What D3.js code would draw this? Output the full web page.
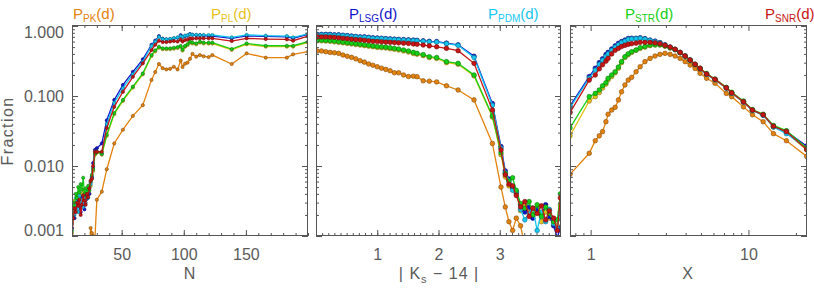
<!DOCTYPE html>
<html>
<head>
<meta charset="utf-8">
<script src="https://cdn.jsdelivr.net/npm/d3@7"></script>
<style>
  body { margin: 0; background: #fff; }
  svg { display: block; }
  text { font-family: "Liberation Sans", Arial, sans-serif; fill: #5a5a5a; }
</style>
</head>
<body>
<svg id="chart" width="814" height="291"></svg>
<script>
"use strict";

/********/
/* data */
/********/

const seriesNames = ["PK", "PL", "LSG", "PDM", "STR", "SNR"];
const seriesColours = ["#e4820e", "#e6c21a", "#1212cc", "#14c6f0", "#14d014", "#c81414"];

// panel 1: number of points N
const nBins = [10, 11, 12, 13, 14, 15, 16, 17, 18, 19, 20, 21, 22, 23, 24, 25, 26, 27,
  28.5, 30, 34, 38, 44, 51, 59, 67, 74, 77, 80, 83, 86, 89, 92, 95,
  97.5, 99, 101, 103, 105, 107, 110, 113, 116, 120, 123, 138.6, 150.6, 166, 183, 188, 200];
const pkN = [null, null, null, null, null, null, null, null, null, null, null, null, null, null, 0.0007, 0.0013, 0.0011, 0.0010,
  0.00095, 0.0033, 0.0043, 0.009, 0.021, 0.033, 0.052, 0.074, 0.17, 0.22, 0.287, 0.25, 0.24, 0.245, 0.262, 0.24,
  0.32, 0.26, 0.29, 0.30, 0.34, 0.40, 0.365, 0.385, 0.37, 0.36, 0.385, 0.287, 0.407, 0.353, 0.353, 0.394, 0.43];
const plN = [0.0011, 0.0020, 0.0032, 0.0026, 0.0038, 0.0030, 0.0025, 0.0040, 0.0032, 0.0045, 0.0036, 0.0033, 0.0038, 0.0042, 0.0040, 0.0052, 0.0065, 0.0085,
  0.0145, 0.0155, 0.0145, 0.027, 0.055, 0.085, 0.132, 0.204, 0.373, 0.436, 0.49, 0.466, 0.466, 0.466, 0.475, 0.485,
  0.504, 0.446, 0.504, 0.534, 0.579, 0.563, 0.548, 0.579, 0.563, 0.561, 0.561, 0.456, 0.548, 0.507, 0.507, 0.507, 0.579];
const lsgN = [0.0013, 0.0022, 0.0018, 0.0028, 0.0025, 0.0032, 0.0026, 0.0022, 0.0035, 0.0030, 0.0024, 0.0038, 0.0034, 0.0045, 0.0040, 0.0058, 0.0070, 0.0110,
  0.017, 0.018, 0.021, 0.045, 0.088, 0.144, 0.222, 0.335, 0.54, 0.62, 0.72, 0.66, 0.645, 0.65, 0.667, 0.68,
  0.74, 0.70, 0.72, 0.73, 0.77, 0.75, 0.74, 0.74, 0.73, 0.72, 0.72, 0.665, 0.725, 0.71, 0.70, 0.67, 0.76];
const pdmN = [0.0015, 0.0028, 0.0020, 0.0035, 0.0030, 0.0022, 0.0038, 0.0028, 0.0033, 0.0026, 0.0036, 0.0030, 0.0042, 0.0035, 0.0050, 0.0055, 0.0068, 0.0095,
  0.016, 0.016, 0.015, 0.040, 0.080, 0.130, 0.205, 0.310, 0.52, 0.60, 0.70, 0.65, 0.645, 0.655, 0.67, 0.69,
  0.72, 0.70, 0.73, 0.74, 0.76, 0.75, 0.75, 0.745, 0.745, 0.745, 0.745, 0.69, 0.75, 0.73, 0.72, 0.69, 0.775];
const strN = [0.0012, 0.0030, 0.0024, 0.0040, 0.0035, 0.0050, 0.0042, 0.0055, 0.0046, 0.0068, 0.0040, 0.0048, 0.0036, 0.0052, 0.0045, 0.0060, 0.0075, 0.0090,
  0.015, 0.016, 0.015, 0.028, 0.057, 0.088, 0.136, 0.210, 0.385, 0.45, 0.506, 0.48, 0.48, 0.48, 0.49, 0.50,
  0.52, 0.46, 0.52, 0.55, 0.597, 0.58, 0.565, 0.597, 0.58, 0.578, 0.578, 0.47, 0.565, 0.523, 0.523, 0.523, 0.597];
const snrN = [0.0010, 0.0018, 0.0025, 0.0022, 0.0030, 0.0027, 0.0033, 0.0020, 0.0028, 0.0038, 0.0032, 0.0028, 0.0040, 0.0036, 0.0048, 0.0062, 0.0066, 0.0100,
  0.016, 0.016, 0.016, 0.035, 0.070, 0.115, 0.188, 0.293, 0.454, 0.54, 0.617, 0.59, 0.59, 0.60, 0.61, 0.60,
  0.64, 0.60, 0.63, 0.64, 0.667, 0.66, 0.667, 0.667, 0.667, 0.667, 0.667, 0.61, 0.667, 0.652, 0.645, 0.617, 0.72];

// panel 2: |Ks - 14|
const ksBins = [0.02, 0.09, 0.16, 0.23, 0.30, 0.37, 0.44, 0.51, 0.58, 0.65, 0.72, 0.79, 0.86, 0.93, 1.00,
  1.07, 1.14, 1.21, 1.28, 1.35, 1.43, 1.51, 1.59, 1.65, 1.75, 1.85, 1.97, 2.13, 2.32, 2.58, 2.88,
  3.02, 3.09, 3.15, 3.21, 3.27, 3.34, 3.41, 3.48, 3.54, 3.61, 3.68, 3.75, 3.81, 3.88, 3.94, 3.99];
const pkKs = [0.44, 0.44, 0.43, 0.42, 0.415, 0.407, 0.385, 0.37, 0.357, 0.34, 0.32, 0.305, 0.287, 0.275, 0.262,
  0.25, 0.24, 0.23, 0.215, 0.215, 0.20, 0.19, 0.192, 0.189, 0.165, 0.163, 0.159, 0.14, 0.122, 0.088, 0.021,
  0.005, 0.0026, 0.0016, 0.0012, 0.0018, 0.0014, 0.0007, null, null, null, null, null, null, null, null, null];
const plKs = [0.615, 0.615, 0.61, 0.605, 0.595, 0.585, 0.575, 0.565, 0.555, 0.545, 0.535, 0.525, 0.515, 0.505, 0.495,
  0.49, 0.485, 0.475, 0.465, 0.455, 0.44, 0.425, 0.405, 0.395, 0.378, 0.354, 0.344, 0.30, 0.284, 0.194, 0.05,
  0.0145, 0.007, 0.0052, 0.0048, 0.004, 0.0023, 0.0028, 0.0022, 0.0019, 0.0025, 0.0016, 0.0022, 0.0018, 0.0017, 0.0014, 0.0028];
const lsgKs = [0.76, 0.76, 0.76, 0.76, 0.75, 0.75, 0.74, 0.73, 0.72, 0.71, 0.70, 0.70, 0.69, 0.68, 0.675,
  0.67, 0.66, 0.655, 0.65, 0.645, 0.64, 0.635, 0.63, 0.625, 0.615, 0.605, 0.60, 0.57, 0.54, 0.37, 0.078,
  0.019, 0.0085, 0.0065, 0.005, 0.0042, 0.0028, 0.0022, 0.0026, 0.0018, 0.0024, 0.002, 0.0028, 0.0019, 0.0014, 0.00095, 0.0013];
const pdmKs = [0.75, 0.75, 0.75, 0.75, 0.74, 0.74, 0.73, 0.72, 0.71, 0.70, 0.69, 0.69, 0.68, 0.67, 0.665,
  0.66, 0.65, 0.645, 0.64, 0.635, 0.63, 0.625, 0.62, 0.615, 0.605, 0.595, 0.59, 0.56, 0.53, 0.355, 0.074,
  0.018, 0.008, 0.0062, 0.0045, 0.0043, 0.0024, 0.0017, 0.0021, 0.0025, 0.0012, 0.0022, 0.0016, 0.0024, 0.0015, 0.0013, 0.0022];
const strKs = [0.63, 0.63, 0.625, 0.62, 0.61, 0.60, 0.59, 0.58, 0.57, 0.56, 0.55, 0.54, 0.53, 0.52, 0.51,
  0.505, 0.50, 0.49, 0.48, 0.47, 0.455, 0.44, 0.42, 0.407, 0.39, 0.365, 0.355, 0.31, 0.293, 0.20, 0.052,
  0.0155, 0.0078, 0.006, 0.0068, 0.0045, 0.0029, 0.0025, 0.0031, 0.002, 0.0028, 0.0019, 0.0026, 0.0021, 0.0016, 0.0017, 0.004];
const snrKs = [0.70, 0.70, 0.70, 0.695, 0.69, 0.68, 0.67, 0.66, 0.65, 0.64, 0.635, 0.625, 0.615, 0.605, 0.60,
  0.595, 0.59, 0.585, 0.58, 0.575, 0.57, 0.565, 0.555, 0.55, 0.535, 0.52, 0.505, 0.48, 0.444, 0.293, 0.063,
  0.017, 0.0075, 0.0055, 0.0052, 0.0038, 0.0026, 0.0031, 0.0019, 0.0025, 0.0021, 0.0027, 0.0017, 0.0023, 0.0018, 0.0012, 0.0035];

// panel 3: X
const xBins = [0.74, 0.98, 1.07, 1.135, 1.19, 1.25, 1.29, 1.36, 1.43, 1.5,
  1.57, 1.65, 1.73, 1.82, 1.94, 2.06, 2.21, 2.38, 2.56, 2.75,
  2.96, 3.19, 3.43, 3.69, 3.97, 4.27, 4.59, 4.94, 5.43, 6.14,
  7.24, 7.83, 9.3, 10.6, 12.4, 14.4, 17.4, 23.4];
const pkX = [0.0076, 0.0152, 0.023, 0.027, 0.031, 0.043, 0.055, 0.063, 0.069, 0.088,
  0.115, 0.144, 0.169, 0.185, 0.222, 0.262, 0.31, 0.345, 0.373, 0.394,
  0.407, 0.394, 0.373, 0.345, 0.31, 0.277, 0.248, 0.211, 0.179, 0.152,
  0.109, 0.098, 0.07, 0.054, 0.043, 0.029, 0.023, 0.0137];
const plX = [0.027, 0.085, 0.098, 0.112, 0.13, 0.148, 0.17, 0.19, 0.215, 0.25,
  0.3, 0.355, 0.39, 0.42, 0.45, 0.48, 0.50, 0.525, 0.535, 0.535,
  0.515, 0.485, 0.46, 0.415, 0.37, 0.323, 0.28, 0.245, 0.205, 0.17,
  0.13, 0.11, 0.082, 0.062, 0.053, 0.036, 0.03, 0.017];
const lsgX = [0.072, 0.19, 0.25, 0.30, 0.34, 0.39, 0.42, 0.47, 0.52, 0.565,
  0.60, 0.63, 0.665, 0.67, 0.67, 0.68, 0.66, 0.63, 0.61, 0.58,
  0.54, 0.50, 0.465, 0.42, 0.373, 0.327, 0.284, 0.248, 0.206, 0.173,
  0.131, 0.111, 0.083, 0.063, 0.054, 0.037, 0.031, 0.0193];
const pdmX = [0.068, 0.18, 0.235, 0.285, 0.325, 0.37, 0.40, 0.45, 0.50, 0.54,
  0.58, 0.61, 0.645, 0.655, 0.66, 0.67, 0.65, 0.625, 0.60, 0.575,
  0.535, 0.495, 0.46, 0.415, 0.37, 0.325, 0.282, 0.245, 0.204, 0.17,
  0.13, 0.11, 0.082, 0.062, 0.053, 0.036, 0.029, 0.018];
const strX = [0.035, 0.098, 0.109, 0.122, 0.14, 0.155, 0.179, 0.2, 0.222, 0.26,
  0.31, 0.365, 0.40, 0.43, 0.455, 0.49, 0.51, 0.535, 0.54, 0.54,
  0.52, 0.49, 0.465, 0.42, 0.373, 0.327, 0.284, 0.25, 0.21, 0.175,
  0.133, 0.113, 0.085, 0.064, 0.055, 0.038, 0.032, 0.018];
const snrX = [0.058, 0.169, 0.20, 0.245, 0.28, 0.315, 0.345, 0.40, 0.45, 0.48,
  0.51, 0.53, 0.548, 0.56, 0.57, 0.585, 0.585, 0.585, 0.575, 0.56,
  0.53, 0.50, 0.465, 0.42, 0.373, 0.327, 0.284, 0.248, 0.206, 0.173,
  0.131, 0.111, 0.083, 0.063, 0.054, 0.037, 0.031, 0.0172];

const yTicks = [0.001, 0.01, 0.1, 1];

/*********/
/* model */
/*********/

const svg = d3.select("#chart");
const top_ = 25;
const bottom = 236;

const y = d3.scaleLog().domain([0.001, 1.035]).range([bottom, top_]);

const yMinor = [];
[0.001, 0.01, 0.1].forEach(function(d) {
  for (let k = 2; k <= 9; k++) yMinor.push(d * k);
});

const panels = [
  {
    id: "n",
    x: d3.scaleLinear().domain([10, 200]).range([72, 308]),
    bins: nBins,
    series: [pkN, plN, lsgN, pdmN, strN, snrN],
    major: [50, 100, 150],
    minor: d3.range(10, 201, 10),
    format: d3.format("d"),
    r: 1.6,
  },
  {
    id: "ks",
    x: d3.scaleLinear().domain([0, 4]).range([316, 561]),
    bins: ksBins,
    series: [pkKs, plKs, lsgKs, pdmKs, strKs, snrKs],
    major: [1, 2, 3],
    minor: d3.range(1, 40).map(d => d / 10),
    format: d3.format("d"),
    r: 2.3,
  },
  {
    id: "x",
    x: d3.scaleLog().domain([0.74, 23.5]).range([570, 807]),
    bins: xBins,
    series: [pkX, plX, lsgX, pdmX, strX, snrX],
    major: [1, 10],
    minor: [0.8, 0.9, 2, 3, 4, 5, 6, 7, 8, 9, 20],
    format: d3.format("d"),
    r: 2.3,
  },
];

/********/
/* view */
/********/

function ticksView(g, axis, size, values, format) {
  g.call(axis.tickValues(values).tickSize(size).tickFormat(format || (() => "")));
  g.select(".domain").remove();
  g.selectAll(".tick line").attr("stroke", "#555").attr("stroke-width", 1);
  g.selectAll(".tick text").attr("font-size", 16).style("fill", "#5a5a5a");
}

function panelView(p, i) {
  const x = p.x;
  const [x0, x1] = x.range();
  const g = svg.append("g");

  g.append("clipPath")
    .attr("id", "clip-" + p.id)
    .append("rect")
    .attr("x", x0)
    .attr("y", top_)
    .attr("width", x1 - x0)
    .attr("height", bottom - top_);

  const plot = g.append("g").attr("clip-path", "url(#clip-" + p.id + ")");

  p.series.forEach(function(values, s) {
    const colour = seriesColours[s];
    const pts = p.bins.map((b, j) => [b, values[j]]);
    const line = d3
      .line()
      .defined(d => d[1] != null)
      .x(d => x(d[0]))
      .y(d => y(d[1]));

    plot
      .append("path")
      .datum(pts)
      .attr("d", line)
      .attr("fill", "none")
      .attr("stroke", colour)
      .attr("stroke-width", 1.3);

    plot
      .append("g")
      .selectAll("circle")
      .data(pts.filter(d => d[1] != null))
      .join("circle")
      .attr("cx", d => x(d[0]))
      .attr("cy", d => y(d[1]))
      .attr("r", p.r)
      .attr("fill", colour)
      .attr("stroke", d3.color(colour).darker(1.6))
      .attr("stroke-width", 0.6);
  });

  // frame
  g.append("rect")
    .attr("x", x0 + 0.5)
    .attr("y", top_ + 0.5)
    .attr("width", x1 - x0 - 1)
    .attr("height", bottom - top_ - 1)
    .attr("fill", "none")
    .attr("stroke", "#555")
    .attr("stroke-width", 1);

  // x ticks, bottom and top, pointing inward
  const xb = g.append("g").attr("transform", "translate(0," + bottom + ")");
  ticksView(xb.append("g"), d3.axisBottom(x), -3, p.minor, null);
  ticksView(xb.append("g"), d3.axisBottom(x).tickPadding(13), -6, p.major, p.format);

  const xt = g.append("g").attr("transform", "translate(0," + top_ + ")");
  ticksView(xt.append("g"), d3.axisTop(x), -3, p.minor, null);
  ticksView(xt.append("g"), d3.axisTop(x), -6, p.major, null);

  // y ticks, left and right
  const yl = g.append("g").attr("transform", "translate(" + x0 + ",0)");
  ticksView(yl.append("g"), d3.axisLeft(y), -3, yMinor, null);
  const ylMajor = yl.append("g");
  if (i === 0) {
    ticksView(ylMajor, d3.axisLeft(y).tickPadding(8), -6, yTicks, d3.format(".3f"));
    ylMajor.selectAll(".tick text")
      .attr("transform", d => (d === 1 ? "translate(0,6)" : d === 0.001 ? "translate(0,-6)" : null));
  } else {
    ticksView(ylMajor, d3.axisLeft(y), -6, yTicks, null);
  }

  const yr = g.append("g").attr("transform", "translate(" + x1 + ",0)");
  ticksView(yr.append("g"), d3.axisRight(y), -3, yMinor, null);
  ticksView(yr.append("g"), d3.axisRight(y), -6, yTicks, null);
}

function titlesView() {
  svg.append("text")
    .attr("transform", "translate(13,131) rotate(-90)")
    .attr("text-anchor", "middle")
    .attr("font-size", 16)
    .attr("letter-spacing", 1.4)
    .text("Fraction");

  const xTitle = (cx, parts) => {
    const t = svg.append("text")
      .attr("x", cx)
      .attr("y", 279)
      .attr("text-anchor", "middle")
      .attr("font-size", 16)
      .attr("letter-spacing", 1);
    parts.forEach(function(part) {
      t.append("tspan")
        .attr("font-size", part.sub ? 11 : 16)
        .attr("dy", part.dy || 0)
        .text(part.text);
    });
  };

  xTitle(190, [{ text: "N" }]);
  xTitle(439, [{ text: "| K" }, { text: "s", sub: true, dy: 4 }, { text: " \u2212 14 |", dy: -4 }]);
  xTitle(688, [{ text: "X" }]);
}

function legendView() {
  const starts = [73, 211, 349, 488, 625, 765];
  seriesNames.forEach(function(name, s) {
    const t = svg.append("text")
      .attr("x", starts[s])
      .attr("y", 19)
      .attr("font-size", 15)
      .style("fill", seriesColours[s]);
    t.append("tspan").text("P");
    t.append("tspan").attr("font-size", 10).attr("dy", 3).text(name);
    t.append("tspan").attr("dy", -3).text("(d)");
  });
}

panels.forEach(panelView);
titlesView();
legendView();
</script>
</body>
</html>
